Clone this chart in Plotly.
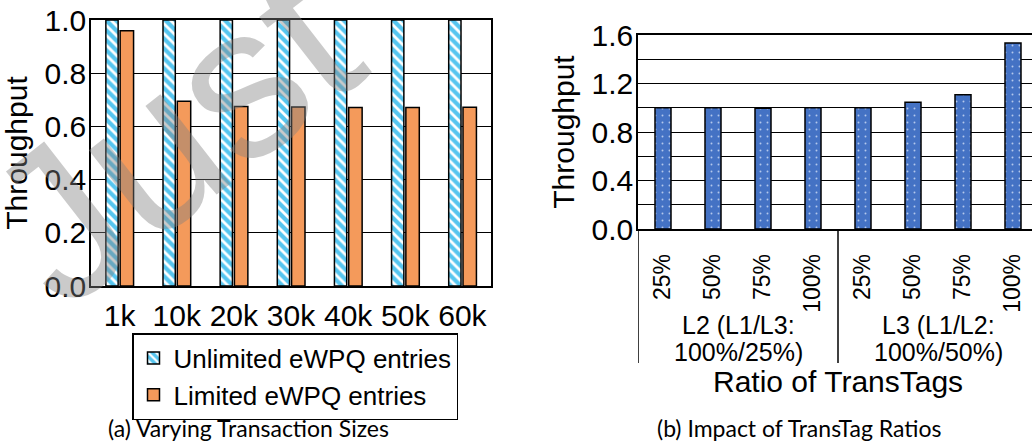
import plotly.graph_objects as go

# ---------------- data ----------------
size_labels = ["1k", "10k", "20k", "30k", "40k", "50k", "60k"]
unlimited_vals = [1.0, 1.0, 1.0, 1.0, 1.0, 1.0, 1.0]
limited_vals = [0.96, 0.695, 0.675, 0.673, 0.671, 0.671, 0.672]

ratio_labels = ["25%", "50%", "75%", "100%", "25%", "50%", "75%", "100%"]
ratio_vals = [1.0, 1.0, 0.995, 1.0, 1.0, 1.045, 1.108, 1.534]
group_line1 = ["L2 (L1/L3:", "L3 (L1/L2:"]
group_line2 = ["100%/25%)", "100%/50%)"]

W, H = 1032, 444
FONT = "Liberation Sans, Arial, sans-serif"


def px_x(p):
    return p / W


def px_y(p):
    return (H - p) / H


fig = go.Figure()

xs_a = list(range(len(size_labels)))
fig.add_trace(go.Bar(
    x=xs_a, y=unlimited_vals, name="Unlimited eWPQ entries",
    width=0.215, offset=-0.24,
    marker=dict(color="#56C5EF", line=dict(color="black", width=1.5),
                pattern=dict(shape="\\", fgcolor="white", bgcolor="#56C5EF",
                             size=7, solidity=0.4, fillmode="replace")),
    xaxis="x", yaxis="y",
))
fig.add_trace(go.Bar(
    x=xs_a, y=limited_vals, name="Limited eWPQ entries",
    width=0.235, offset=0.01,
    marker=dict(color="#F49A5B", line=dict(color="black", width=1.5)),
    xaxis="x", yaxis="y",
))

xs_b = list(range(len(ratio_labels)))
fig.add_trace(go.Bar(
    x=xs_b, y=ratio_vals, name="ratio", showlegend=False,
    width=0.32, offset=-0.16,
    marker=dict(color="#4472C4", line=dict(color="black", width=1.5),
                pattern=dict(shape=".", fgcolor="#B4C8EC", bgcolor="#4472C4",
                             size=7, solidity=0.06, fillmode="replace")),
    xaxis="x2", yaxis="y2",
))

# domains (pixel-based)
xa_dom = [px_x(91), px_x(491)]
ya_dom = [px_y(286), px_y(20)]
xb_dom = [px_x(638), 1.0]
yb_dom = [px_y(229), px_y(35)]

fig.update_layout(
    width=W, height=H,
    margin=dict(l=0, r=0, t=0, b=0),
    paper_bgcolor="white", plot_bgcolor="white",
    font=dict(family=FONT, color="black", size=26),
    barmode="overlay",
    xaxis=dict(domain=xa_dom, range=[-0.5, 6.5], tickvals=xs_a, ticktext=size_labels,
               showline=True, linecolor="black", linewidth=1.5, mirror=True,
               showgrid=False, ticks="", tickfont=dict(size=30), automargin=False,
               ticklabelstandoff=2, fixedrange=True),
    yaxis=dict(domain=ya_dom, range=[0, 1.0], dtick=0.2, tickformat=".1f",
               showline=True, linecolor="black", linewidth=1.5, mirror=True,
               showgrid=True, gridcolor="black", gridwidth=1, zeroline=False,
               ticks="", tickfont=dict(size=30), automargin=False,
               title=dict(text="Throughput", font=dict(size=30), standoff=12),
               ticklabelstandoff=-3),
    xaxis2=dict(domain=xb_dom, range=[-0.5, 7.38], tickvals=xs_b, ticktext=ratio_labels,
                anchor="y2", showline=True, linecolor="black", linewidth=1.5, mirror=True,
                showgrid=False, ticks="", tickangle=-90, automargin=False,
                tickfont=dict(size=23),
                ticklabelstandoff=14),
    yaxis2=dict(domain=yb_dom, range=[0, 1.6], dtick=0.4, tickformat=".1f", anchor="x2",
                showline=True, linecolor="black", linewidth=1.5, mirror=False,
                showgrid=True, gridcolor="black", gridwidth=1, zeroline=False,
                minor=dict(dtick=0.2, showgrid=True, gridcolor="black", gridwidth=1),
                ticks="", tickfont=dict(size=30), automargin=False,
                title=dict(text="Throughput", font=dict(size=30), standoff=8),
                ticklabelstandoff=-3),
    legend=dict(x=px_x(295), xanchor="center", y=px_y(333), yanchor="top",
                bordercolor="black", borderwidth=1.5, font=dict(size=26),
                bgcolor="white", tracegroupgap=0, itemclick=False),
)

annotations = []
# group labels under the right chart
for i, (l1, l2) in enumerate(zip(group_line1, group_line2)):
    cx = 1.5 + 4 * i
    annotations.append(dict(x=cx, xref="x2", y=px_y(325), yref="paper", text=l1,
                            showarrow=False, font=dict(size=25), xanchor="center", yanchor="middle"))
    annotations.append(dict(x=cx, xref="x2", y=px_y(352), yref="paper", text=l2,
                            showarrow=False, font=dict(size=25), xanchor="center", yanchor="middle"))
annotations.append(dict(x=3.5, xref="x2", y=px_y(381), yref="paper", text="Ratio of TransTags",
                        showarrow=False, font=dict(size=30), xanchor="center", yanchor="middle"))
# captions
annotations.append(dict(x=px_x(248), xref="paper", y=px_y(428), yref="paper",
                        text="(a) Varying Transaction Sizes", showarrow=False,
                        font=dict(size=23, family="Lato, Open Sans, sans-serif"),
                        xanchor="center", yanchor="middle"))
annotations.append(dict(x=px_x(799), xref="paper", y=px_y(428), yref="paper",
                        text="(b) Impact of TransTag Ratios", showarrow=False,
                        font=dict(size=23, family="Lato, Open Sans, sans-serif"),
                        xanchor="center", yanchor="middle"))
# watermark
annotations.append(dict(x=px_x(172), xref="paper", y=px_y(134), yref="paper",
                        text="Just", showarrow=False, textangle=-38,
                        font=dict(size=215, color="rgba(128,128,128,0.42)", family=FONT),
                        xanchor="center", yanchor="middle"))
fig.update_layout(annotations=annotations)

# group dividers under right chart
for xv in [-0.5, 3.5]:
    fig.add_shape(type="line", xref="x2", yref="paper", x0=xv, x1=xv,
                  y0=px_y(363), y1=px_y(229), line=dict(color="black", width=1.5))

fig.write_html("out.html")
